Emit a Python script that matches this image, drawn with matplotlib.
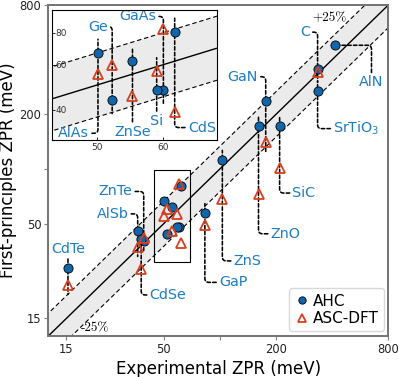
import numpy as np
import matplotlib
matplotlib.use('Agg')
import matplotlib.pyplot as plt
from matplotlib.ticker import FixedLocator, NullLocator, FixedFormatter
from matplotlib.patches import Rectangle

# ---------------- data ----------------
compounds = ['C', 'AlN', 'SrTiO$_3$', 'GaN', 'ZnO', 'SiC', 'ZnS', 'GaP', 'CdS',
             'GaAs', 'Si', 'ZnSe', 'Ge', 'AlAs', 'ZnTe', 'AlSb', 'CdSe', 'CdTe']
exp_zpr = [334, 414, 334, 176, 161, 209, 103, 83, 61.9,
           60.0, 58.9, 55.1, 52.1, 50.1, 39.0, 36.2, 37.8, 15.3]
ahc_zpr = [355, 480, 268, 238, 173, 172, 112, 57, 80.6,
           47.8, 47.8, 61.8, 43.7, 66.7, 40.1, 45.4, 41.2, 28.3]
asc_zpr = [340, np.nan, np.nan, 141, 73, 101, 68, 49, 39.3,
           82.6, 56.5, 45.2, 60.0, 55.3, 41.7, 37.2, 28.2, 23.0]

main_ticks = [15, 50, 100, 200, 800]
main_ticklabels = ['15', '50', '', '200', '800']
inset_xticks = [50, 60]
inset_yticks = [40, 60, 80]
axis_lim = (12, 800)
inset_xlim = (44.1, 69.5)
inset_ylim = (30.5, 98)
band_factor = 0.75

# label layout: axes, text x (None -> same as compound), text y, connector style
layout = {
    'C': ('main', 285.9, 567, 'right'),
    'AlN': ('main', 650, 300, 'top'),
    'SrTiO$_3$': ('main', 540, 166.7, 'left'),
    'GaN': ('main', 132.6, 322, 'right'),
    'ZnO': ('main', 224.8, 43.9, 'left'),
    'SiC': ('main', 282.4, 73.6, 'left'),
    'ZnS': ('main', 140.6, 31.1, 'left'),
    'GaP': ('main', 117.7, 23.7, 'left'),
    'ZnTe': ('main', 27.5, 75.1, 'right'),
    'AlSb': ('main', 26.5, 56.5, 'right'),
    'CdSe': ('main', 52.6, 20.2, 'left'),
    'CdTe': ('main', None, 36.1, 'vert'),
    'CdS': ('inset', 66.7, 34.1, 'left'),
    'GaAs': ('inset', 55.9, 92.5, 'right'),
    'Si': ('inset', None, 36.2, 'vert'),
    'ZnSe': ('inset', None, 32.9, 'vert'),
    'Ge': ('inset', 50.1, 84.5, 'right'),
    'AlAs': ('inset', 46.85, 32.4, 'right'),
}

BLUE = '#1065ab'
TXT = '#1f7cc2'
RED = '#d7401f'
LABEL_FS = 10.3
EXT = 1.13

fig = plt.figure(figsize=(3.99, 3.77), dpi=100)
ax = fig.add_axes([48.3 / 399, 41 / 377, 340 / 399, 331 / 377])
axi = fig.add_axes([51.7 / 399, 237 / 377, 165 / 399, 130 / 377])


def draw_band(a):
    xx = np.array([1.0, 10000.0])
    a.fill_between(xx, xx * band_factor, xx / band_factor, color='#ebebeb', lw=0, zorder=0)
    a.plot(xx, xx, color='k', lw=1.0, zorder=1)
    a.plot(xx, xx * band_factor, color='k', lw=0.8, ls=(0, (4, 2.5)), zorder=1)
    a.plot(xx, xx / band_factor, color='k', lw=0.8, ls=(0, (4, 2.5)), zorder=1)


def draw_points(a, legend=False):
    a.plot(exp_zpr, ahc_zpr, 'o', ms=6.6, mfc=BLUE, mec='k', mew=0.6,
           ls='none', zorder=4, label='AHC' if legend else None)
    a.plot(exp_zpr, asc_zpr, '^', ms=7.2, mfc='none', mec=RED, mew=1.3,
           ls='none', zorder=5, label='ASC-DFT' if legend else None)


for a in (ax, axi):
    a.set_xscale('log')
    a.set_yscale('log')
    draw_band(a)

draw_points(ax, legend=True)
draw_points(axi)

# ---------------- labels with dashed connectors ----------------
for i, name in enumerate(compounds):
    where, xt, yt, mode = layout[name]
    a = ax if where == 'main' else axi
    x = exp_zpr[i]
    vals = [v for v in (ahc_zpr[i], asc_zpr[i]) if not np.isnan(v)]
    lo, hi = min(vals), max(vals)
    yend = lo / EXT if yt > hi else hi * EXT
    props = dict(arrowstyle='-', color='k', lw=1.15, ls=(0, (2.2, 1.4)),
                 shrinkA=0, shrinkB=0)
    if mode == 'vert':
        xt = x
        props.update(connectionstyle='arc3', relpos=(0.5, 0) if yt > hi else (0.5, 1))
        xy = (x, yend)
    elif mode == 'top':
        props.update(connectionstyle='angle,angleA=90,angleB=0,rad=4', relpos=(0.5, 1))
        xy = (x, hi)
    else:
        props.update(connectionstyle='angle,angleA=0,angleB=90,rad=4',
                     relpos=(1, 0.5) if mode == 'right' else (0, 0.5))
        xy = (x, yend)
    a.annotate(name, xy=xy, xytext=(xt, yt), xycoords='data', textcoords='data',
               ha='center', va='center', color=TXT, fontsize=LABEL_FS,
               arrowprops=props, zorder=2, annotation_clip=False)

# ---------------- main axes styling ----------------
ax.set_xlim(*axis_lim)
ax.set_ylim(*axis_lim)
for a_ in (ax.xaxis, ax.yaxis):
    a_.set_major_locator(FixedLocator(main_ticks))
    a_.set_major_formatter(FixedFormatter(main_ticklabels))
    a_.set_minor_locator(NullLocator())
ax.tick_params(which='major', direction='out', length=3, width=0.8, color='0.5',
               labelsize=8.3, labelcolor='#222222', pad=2)
for s in ax.spines.values():
    s.set_color('0.45')
    s.set_linewidth(1.4)
ax.set_xlabel('Experimental ZPR (meV)', fontsize=12, labelpad=3)
ax.set_ylabel('First-principles ZPR (meV)', fontsize=12, labelpad=2)

ax.text(385, 679, '+25%', family='cmr10', fontsize=9.5, ha='center', va='center')
ax.text(21.4, 13.2, '-25%', family='cmr10', fontsize=9.5, ha='center', va='center')

# rectangle marking the inset region
ax.add_patch(Rectangle((inset_xlim[0], inset_ylim[0]),
                       inset_xlim[1] - inset_xlim[0], inset_ylim[1] - inset_ylim[0],
                       fill=False, ec='k', lw=0.8, zorder=6))

leg = ax.legend(loc='lower right', fontsize=11, handletextpad=0.2, borderpad=0.35,
                labelspacing=0.15, handlelength=1.0, borderaxespad=0.3,
                framealpha=1, edgecolor='0.85', markerscale=0.8)

# ---------------- inset styling ----------------
axi.set_xlim(*inset_xlim)
axi.set_ylim(*inset_ylim)
axi.set_facecolor('white')
axi.xaxis.set_major_locator(FixedLocator(inset_xticks))
axi.xaxis.set_major_formatter(FixedFormatter([str(t) for t in inset_xticks]))
axi.xaxis.set_minor_locator(NullLocator())
axi.yaxis.set_major_locator(FixedLocator(inset_yticks))
axi.yaxis.set_major_formatter(FixedFormatter([str(t) for t in inset_yticks]))
axi.yaxis.set_minor_locator(NullLocator())
axi.tick_params(axis='x', direction='in', length=2.5, width=0.6, labelsize=6.5,
                labelcolor='#333333', pad=2)
axi.tick_params(axis='y', direction='in', length=2.5, width=0.6, labelsize=6.5,
                labelcolor='#333333', pad=-11)
for s in axi.spines.values():
    s.set_color('k')
    s.set_linewidth(0.8)

fig.savefig('out.png', dpi=100)
